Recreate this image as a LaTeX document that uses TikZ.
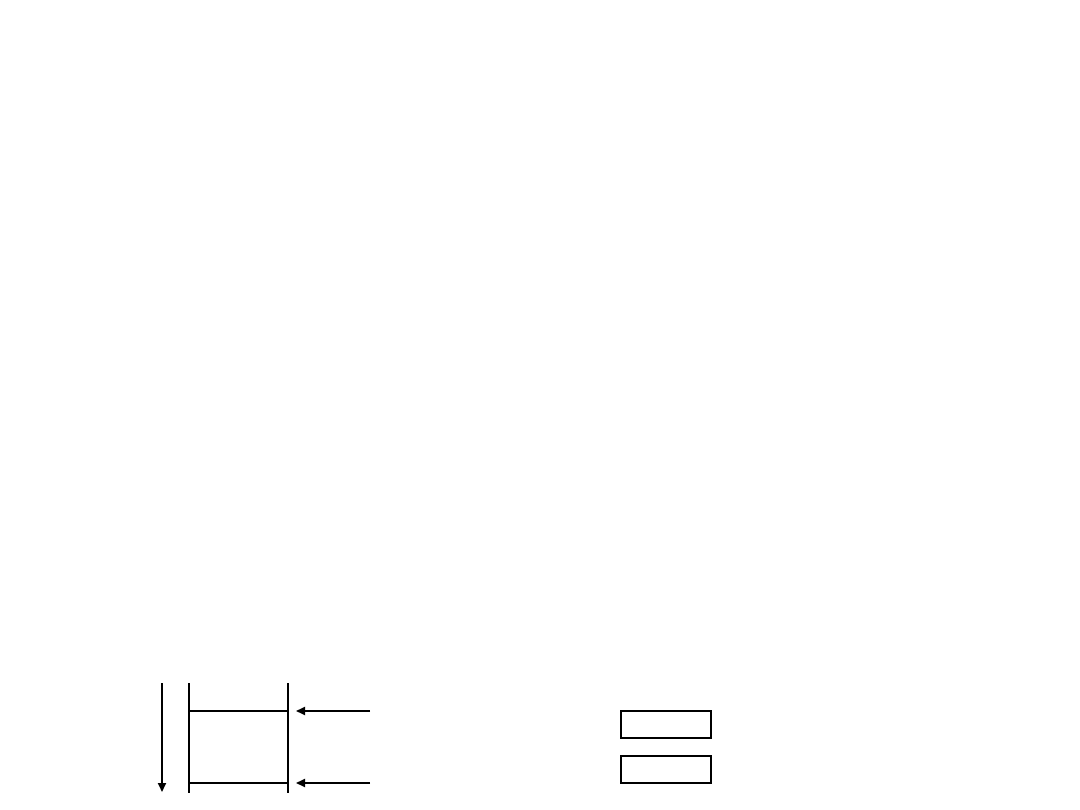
\documentclass[tikz,border=0pt]{standalone}
\usetikzlibrary{arrows.meta}
\begin{document}
\begin{tikzpicture}[x=1pt,y=-1pt,
  ln/.style={line width=2pt},
  arr/.style={ln,-{Triangle[length=9pt,width=8pt]}},
  box/.style={draw,line width=2pt,minimum width=90pt,minimum height=27pt,inner sep=0pt,outer sep=0pt,anchor=north west}]
\useasboundingbox[fill=white] (0,0) rectangle (1080,810);
% left downward arrow
\coordinate (a1) at (162,683);
\coordinate (a2) at (162,792);
\draw[arr] (a1) -- (a2);
% frame
\coordinate (l1) at (189,683);
\coordinate (l2) at (189,793);
\coordinate (r1) at (288,683);
\coordinate (r2) at (288,793);
\draw[ln] (l1) -- (l2);
\draw[ln] (r1) -- (r2);
\coordinate (h1l) at (189,711);
\coordinate (h1r) at (288,711);
\coordinate (h2l) at (189,783);
\coordinate (h2r) at (288,783);
\draw[ln] (h1l) -- (h1r);
\draw[ln] (h2l) -- (h2r);
% incoming arrows
\coordinate (p1) at (370,711);
\coordinate (q1) at (296,711);
\coordinate (p2) at (370,783);
\coordinate (q2) at (296,783);
\draw[arr] (p1) -- (q1);
\draw[arr] (p2) -- (q2);
% boxes
\node[box] (b1) at (621,711) {};
\node[box] (b2) at (621,756) {};
\end{tikzpicture}
\end{document}
